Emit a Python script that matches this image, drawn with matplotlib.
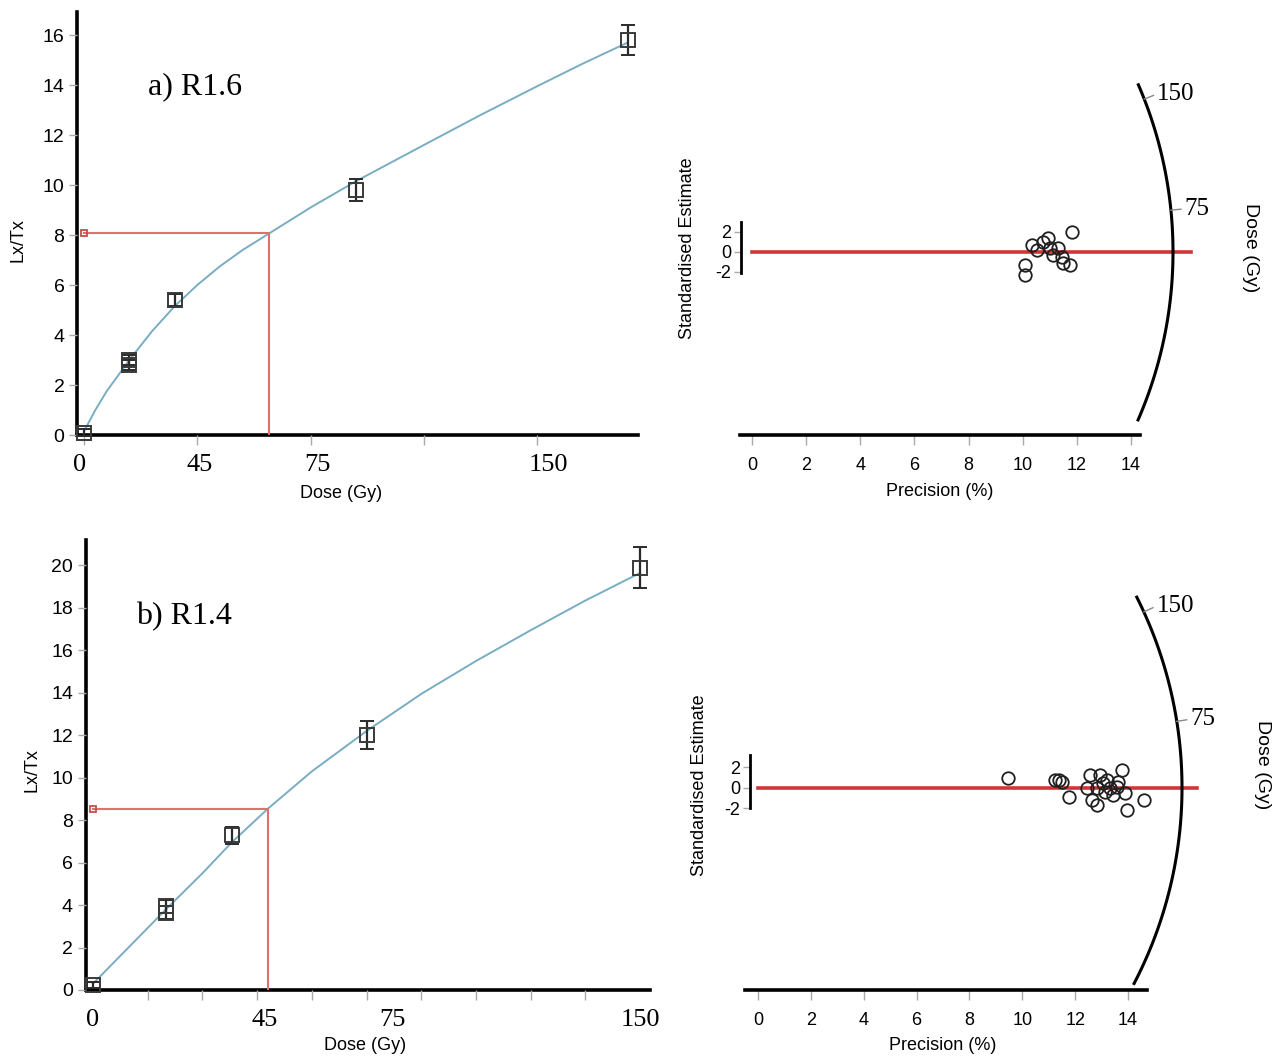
import numpy as np
import matplotlib
matplotlib.use("Agg")
import matplotlib.pyplot as plt
from matplotlib.ticker import MultipleLocator

plt.rcParams["axes.unicode_minus"] = False

W, H = 1276, 1058
SANS = "Liberation Sans"
SERIF = "Liberation Serif"

# ---- a) R1.6 dose response ----
a_dose = [0, 20, 20, 40, 120, 240]
a_lxtx = [0.1, 2.8, 3.0, 5.4, 9.8, 15.8]
a_err = [0.15, 0.2, 0.2, 0.25, 0.45, 0.6]
a_curve_dose = [0, 5, 10, 20, 30, 40, 50, 60, 70, 82, 100, 120, 150, 175, 200, 220, 240]
a_curve_lxtx = [0.15, 1.0, 1.75, 3.0, 4.15, 5.15, 6.0, 6.75, 7.4, 8.08, 9.1, 10.15,
                11.6, 12.8, 13.95, 14.85, 15.7]
a_natural = 8.08
a_de = 81.8
a_ticklabels = ["0", "45", "75", "150"]

# ---- b) R1.4 dose response ----
b_dose = [0, 20, 20, 38, 75, 150]
b_lxtx = [0.25, 3.65, 3.95, 7.3, 12.0, 19.9]
b_err = [0.15, 0.3, 0.3, 0.4, 0.65, 0.95]
b_curve_dose = [0, 10, 20, 30, 38, 48, 60, 75, 90, 105, 120, 135, 150]
b_curve_lxtx = [0.3, 2.05, 3.8, 5.5, 6.95, 8.55, 10.3, 12.2, 13.95, 15.5, 16.95, 18.35, 19.65]
b_natural = 8.55
b_de = 48.0
b_ticklabels = ["0", "45", "75", "150"]

# ---- radial plots (precision %, standardised estimate) ----
a_prec = [11.81, 10.33, 10.76, 10.95, 10.51, 11.0, 11.31, 11.44, 11.50, 11.75, 10.08, 10.08, 11.13]
a_std = [2.03, 0.7, 1.03, 1.37, 0.2, 0.37, 0.37, -0.47, -1.13, -1.3, -1.3, -2.3, -0.3]
b_prec = [9.47, 11.25, 11.37, 11.50, 11.75, 12.45, 12.57, 12.63, 12.82, 12.94, 13.06,
          13.19, 13.32, 13.44, 13.63, 13.76, 13.57, 13.89, 13.96, 14.59, 12.82, 13.13]
b_std = [0.92, 0.75, 0.75, 0.59, -0.88, -0.06, 1.25, -1.2, -1.7, 1.25, 0.43,
         0.75, -0.06, -0.72, 0.59, 1.74, 0.1, -0.55, -2.19, -1.2, -0.06, -0.39]
arc_labels = ["150", "75"]


def rect(l, t, r, b):
    return [l / W, 1 - b / H, (r - l) / W, (b - t) / H]


fig = plt.figure(figsize=(W / 100, H / 100), dpi=100)


def dose_panel(box, xlim, ylim, ystep, dose, lxtx, err, cd, cl, nat, de,
               minor_step, label_pos, labels, title, title_xy, ylab_xy, xlab_xy):
    ax = fig.add_axes(rect(*box))
    ax.set_xlim(*xlim)
    ax.set_ylim(*ylim)
    for s in ["top", "right"]:
        ax.spines[s].set_visible(False)
    for s in ["left", "bottom"]:
        ax.spines[s].set_linewidth(2.6)
        ax.spines[s].set_zorder(1)
    ax.plot(cd, cl, color="#79adc2", lw=1.4, zorder=2)
    ax.plot([0, de, de], [nat, nat, 0], color="#e07070", lw=1.5, zorder=2)
    ax.plot([0], [nat], marker="s", ms=5, mfc="none", mec="#c05050", mew=1.3,
            clip_on=False, zorder=4)
    ax.errorbar(dose, lxtx, yerr=err, fmt="s", ms=9.5, mfc="none", mec="#3a3a3a",
                mew=1.4, ecolor="#2a2a2a", elinewidth=1.6, capsize=5, capthick=1.6,
                clip_on=False, zorder=5)
    ax.yaxis.set_major_locator(MultipleLocator(ystep))
    ax.tick_params(axis="y", length=6, width=1, color="#aaaaaa", pad=3,
                   labelsize=14, labelfontfamily=SANS)
    ax.xaxis.set_minor_locator(MultipleLocator(minor_step))
    ax.set_xticks(label_pos, labels)
    ax.tick_params(axis="x", which="major", length=0, pad=14, labelsize=19,
                   labelfontfamily=SERIF)
    ax.tick_params(axis="x", which="minor", length=7, width=1, color="#aaaaaa")
    fig.text(title_xy[0] / W, 1 - title_xy[1] / H, title, family=SERIF, fontsize=23,
             va="center", ha="left")
    fig.text(ylab_xy[0] / W, 1 - ylab_xy[1] / H, "Lx/Tx", family=SANS, fontsize=13,
             rotation=90, va="center", ha="center")
    fig.text(xlab_xy[0] / W, 1 - xlab_xy[1] / H, "Dose (Gy)", family=SANS, fontsize=13,
             va="center", ha="center")
    return ax


dose_panel((77, 12, 638, 435), (-3.1, 244.5), (0, 16.92), 2,
           a_dose, a_lxtx, a_err, a_curve_dose, a_curve_lxtx, a_natural, a_de,
           50, [-2, 51, 103, 205], a_ticklabels, "a) R1.6", (148, 87), (18, 240), (341, 493))
dose_panel((85.5, 540, 650, 990), (-2.06, 152.7), (0, 21.2), 2,
           b_dose, b_lxtx, b_err, b_curve_dose, b_curve_lxtx, b_natural, b_de,
           15, [0, 47, 82, 150], b_ticklabels, "b) R1.4", (136, 617), (32, 770), (365, 1046))


def radial_panel(box, x0px, z0px, pxx, pxy, spine_x, zbar, xbounds, red_end,
                 R, th0, th1, tick_th, prec, std, ylab_xy, xlab_xy, dlab_xy):
    l, t, r, b = box
    ax = fig.add_axes(rect(*box))
    ax.set_xlim(-(x0px - l) / pxx, (r - x0px) / pxx)
    ax.set_ylim(-(b - z0px) / pxy, (z0px - t) / pxy)
    for s in ["top", "right"]:
        ax.spines[s].set_visible(False)
    ax.spines["bottom"].set_linewidth(2.6)
    ax.spines["bottom"].set_bounds(*xbounds)
    ax.spines["left"].set_linewidth(2.0)
    ax.spines["left"].set_position(("data", spine_x))
    ax.spines["left"].set_bounds(*zbar)
    ax.set_xticks(np.arange(0, 15, 2))
    ax.set_yticks([-2, 0, 2])
    ax.tick_params(axis="x", length=7, width=1, color="#aaaaaa", pad=9,
                   labelsize=13, labelfontfamily=SANS)
    ax.tick_params(axis="y", length=5, width=1, color="#aaaaaa", pad=2,
                   labelsize=13, labelfontfamily=SANS)
    ax.plot([0, red_end], [0, 0], color="#cc2020", lw=2.6, alpha=0.9, zorder=2)
    ax.plot(prec, std, "o", ms=9, mfc="none", mec="#202020", mew=1.3, zorder=3)
    th = np.radians(np.linspace(th0, th1, 100))
    ax.plot(R * np.cos(th) / pxx, R * np.sin(th) / pxy, color="black", lw=2.2,
            clip_on=False)
    for lab, a in zip(arc_labels, tick_th):
        a = np.radians(a)
        ax.plot([R * np.cos(a) / pxx, (R + 10) * np.cos(a) / pxx],
                [R * np.sin(a) / pxy, (R + 10) * np.sin(a) / pxy],
                color="#888888", lw=1, clip_on=False)
        ax.text((R + 14) * np.cos(a) / pxx, (R + 14) * np.sin(a) / pxy, lab,
                family=SERIF, fontsize=18, va="center", ha="left")
    fig.text(ylab_xy[0] / W, 1 - ylab_xy[1] / H, "Standardised Estimate", family=SANS,
             fontsize=13, rotation=90, va="center", ha="center")
    fig.text(xlab_xy[0] / W, 1 - xlab_xy[1] / H, "Precision (%)", family=SANS,
             fontsize=13, va="center", ha="center")
    fig.text(dlab_xy[0] / W, 1 - dlab_xy[1] / H, "Dose (Gy)", family=SANS,
             fontsize=14, rotation=-90, va="center", ha="center")
    return ax


radial_panel((730, 40, 1230, 435), 752, 252, 27.07, 10.0, -0.41, (-2.1, 3.0),
             (-0.44, 14.33), 16.2, 421, -23.5, 23.4, [21.3, 5.7],
             a_prec, a_std, (688, 248), (940, 492), (1250, 248))
radial_panel((730, 570, 1240, 990), 758, 787.7, 26.43, 10.2, -0.30, (-2.0, 3.2),
             (-0.49, 14.72), 16.6, 424, -27.5, 26.7, [24.5, 9.0],
             b_prec, b_std, (700, 785), (943, 1045), (1262, 765))

fig.savefig("out.png", dpi=100)
